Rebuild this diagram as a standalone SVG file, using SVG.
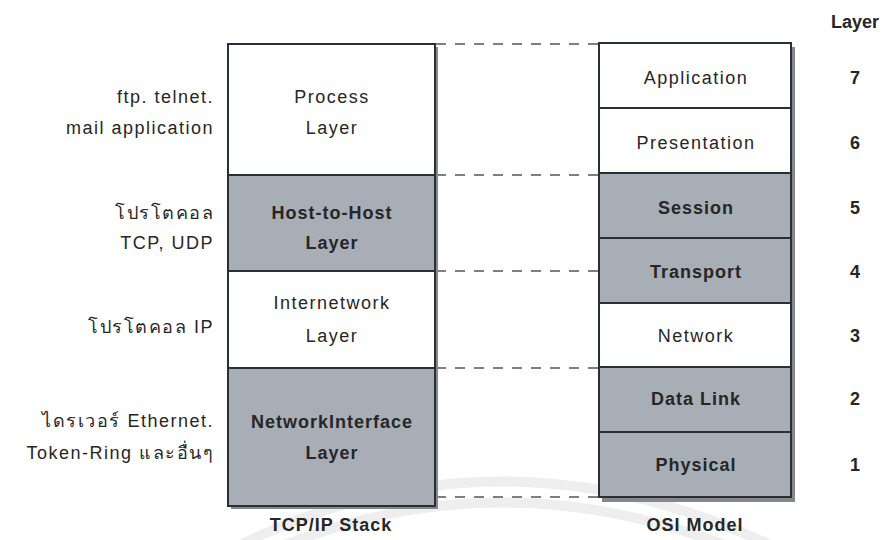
<svg xmlns="http://www.w3.org/2000/svg" width="883" height="540" viewBox="0 0 883 540">
  <style>
    text { font-family: "Liberation Sans", "Noto Sans", "DejaVu Sans", sans-serif; fill: #262626; font-size: 18px; letter-spacing: 1.5px; }
    .c { text-anchor: middle; }
    .r { text-anchor: end; }
    .b { font-weight: bold; letter-spacing: 1px; }
    .n { letter-spacing: 0; }
    .plain { fill: #ffffff; stroke: #2a2f33; stroke-width: 2; }
    .shade { fill: #a8aeb6; stroke: #2a2f33; stroke-width: 2; }
    .shadow { fill: #85888c; }
    .dash { stroke: #555; stroke-width: 1.5; stroke-dasharray: 10 9; fill: none; }
    .mark { fill: none; stroke: #eeeeee; stroke-width: 10; }
  </style>

  <rect width="883" height="540" fill="#ffffff"/>

  <!-- faint background arcs -->
  <path class="mark" d="M 240 545 Q 500 418 770 545"/>
  <path class="mark" d="M 285 545 Q 500 460 725 545"/>

  <!-- dashed alignment lines between the two stacks -->
  <g id="connectors">
    <line class="dash" x1="436" y1="44" x2="599" y2="44"/>
    <line class="dash" x1="436" y1="175" x2="599" y2="175"/>
    <line class="dash" x1="436" y1="271" x2="599" y2="271"/>
    <line class="dash" x1="436" y1="368" x2="599" y2="368"/>
    <line class="dash" x1="436" y1="497" x2="599" y2="497"/>
  </g>

  <!-- TCP/IP stack -->
  <rect class="shadow" x="231" y="47" width="207" height="462"/>
  <g id="process">
    <rect class="plain" x="228" y="44" width="207" height="131"/>
    <text class="c" x="332" y="103">Process</text>
    <text class="c" x="332" y="134">Layer</text>
  </g>
  <g id="host-to-host">
    <rect class="shade" x="228" y="175" width="207" height="96"/>
    <text class="c b" x="332" y="219">Host-to-Host</text>
    <text class="c b" x="332" y="249">Layer</text>
  </g>
  <g id="internetwork">
    <rect class="plain" x="228" y="271" width="207" height="97"/>
    <text class="c" x="332" y="309">Internetwork</text>
    <text class="c" x="332" y="342">Layer</text>
  </g>
  <g id="network-interface">
    <rect class="shade" x="228" y="368" width="207" height="138"/>
    <text class="c b" x="332" y="428">NetworkInterface</text>
    <text class="c b" x="332" y="459">Layer</text>
  </g>
  <text class="c b" x="331" y="531">TCP/IP Stack</text>

  <!-- protocol notes -->
  <g id="notes">
    <text class="r" x="214" y="103">ftp. telnet.</text>
    <text class="r" x="214" y="134">mail application</text>
    <text class="r" x="214" y="219">โปรโตคอล</text>
    <text class="r" x="214" y="249">TCP, UDP</text>
    <text class="r" x="214" y="333">โปรโตคอล IP</text>
    <text class="r" x="214" y="427">ไดรเวอร์ Ethernet.</text>
    <text class="r" x="214" y="459">Token-Ring และอื่นๆ</text>
  </g>

  <!-- OSI model -->
  <rect class="shadow" x="602" y="47" width="193" height="455"/>
  <g id="application">
    <rect class="plain" x="599" y="43" width="192" height="65"/>
    <text class="c" x="696" y="84">Application</text>
  </g>
  <g id="presentation">
    <rect class="plain" x="599" y="108" width="192" height="65"/>
    <text class="c" x="696" y="149">Presentation</text>
  </g>
  <g id="session">
    <rect class="shade" x="599" y="173" width="192" height="65"/>
    <text class="c b" x="696" y="214">Session</text>
  </g>
  <g id="transport">
    <rect class="shade" x="599" y="238" width="192" height="65"/>
    <text class="c b" x="696" y="278">Transport</text>
  </g>
  <g id="network">
    <rect class="plain" x="599" y="303" width="192" height="64"/>
    <text class="c" x="696" y="342">Network</text>
  </g>
  <g id="data-link">
    <rect class="shade" x="599" y="367" width="192" height="65"/>
    <text class="c b" x="696" y="405">Data Link</text>
  </g>
  <g id="physical">
    <rect class="shade" x="599" y="432" width="192" height="65"/>
    <text class="c b" x="696" y="471">Physical</text>
  </g>
  <text class="c b" x="695" y="531">OSI Model</text>

  <!-- layer numbers -->
  <g id="layer-numbers">
    <text class="c b n" x="855" y="28">Layer</text>
    <text class="c b n" x="855" y="84">7</text>
    <text class="c b n" x="855" y="149">6</text>
    <text class="c b n" x="855" y="214">5</text>
    <text class="c b n" x="855" y="278">4</text>
    <text class="c b n" x="855" y="342">3</text>
    <text class="c b n" x="855" y="405">2</text>
    <text class="c b n" x="855" y="471">1</text>
  </g>
</svg>
